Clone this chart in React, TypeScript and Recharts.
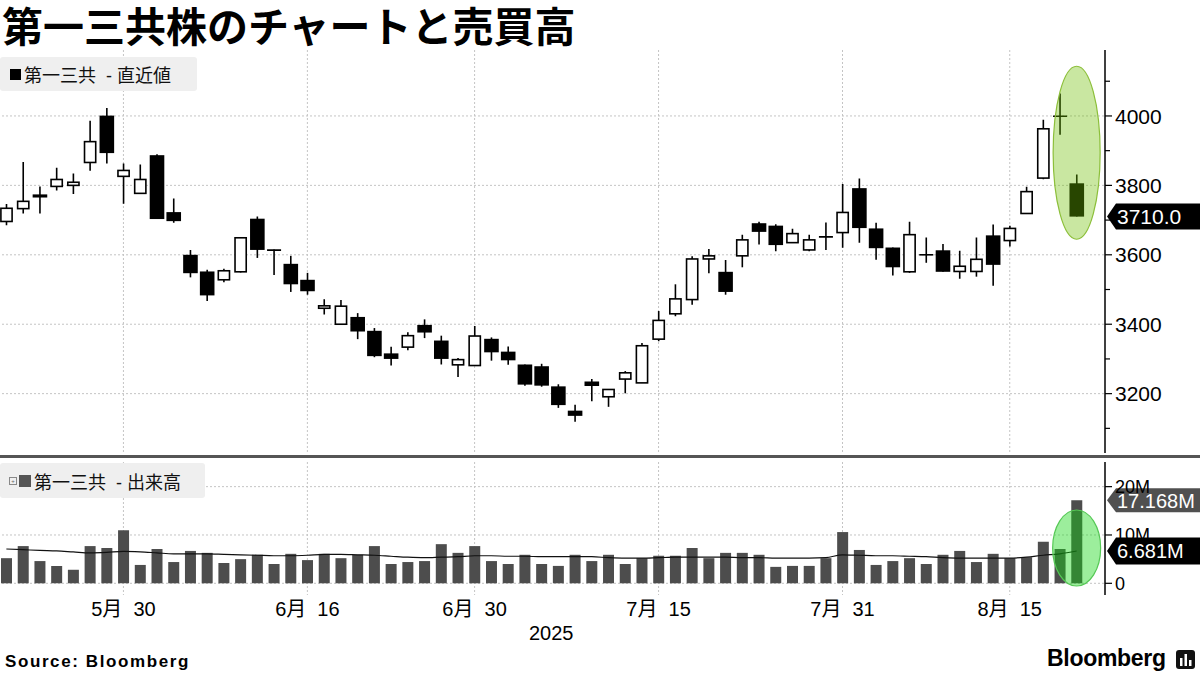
import React from "react";
import { ComposedChart, Bar, Line, XAxis, YAxis, CartesianGrid, ReferenceLine, ReferenceDot } from "recharts";

// 取引日 (2025)
const dates = [
  "5/21", "5/22", "5/23", "5/26", "5/27", "5/28", "5/29", "5/30",
  "6/2", "6/3", "6/4", "6/5", "6/6", "6/9", "6/10", "6/11", "6/12", "6/13", "6/16",
  "6/17", "6/18", "6/19", "6/20", "6/23", "6/24", "6/25", "6/26", "6/27", "6/30",
  "7/1", "7/2", "7/3", "7/4", "7/7", "7/8", "7/9", "7/10", "7/11", "7/14", "7/15",
  "7/16", "7/17", "7/18", "7/22", "7/23", "7/24", "7/25", "7/28", "7/29", "7/30", "7/31",
  "8/1", "8/4", "8/5", "8/6", "8/7", "8/8", "8/12", "8/13", "8/14", "8/15",
  "8/18", "8/19", "8/20", "8/21",
];

const opens = [
  3696, 3733, 3774, 3797, 3800, 3866, 4001, 3826, 3777, 3887, 3723, 3600, 3552, 3528, 3551, 3704,
  3614, 3574, 3528, 3446, 3400, 3421, 3381, 3316, 3334, 3398, 3353, 3283, 3281, 3358, 3321, 3284,
  3279, 3221, 3151, 3235, 3191, 3242, 3231, 3357, 3430, 3471, 3588, 3551, 3597, 3691, 3684, 3635,
  3614, 3651, 3664, 3792, 3676, 3621, 3551, 3600, 3613, 3552, 3552, 3656, 3641, 3719, 3821, 3998,
  3806,
];
const highs = [
  3746, 3867, 3797, 3851, 3834, 3986, 4023, 3863, 3860, 3890, 3762, 3614, 3557, 3560, 3651, 3710,
  3615, 3597, 3548, 3472, 3470, 3432, 3389, 3335, 3377, 3414, 3367, 3303, 3395, 3362, 3336, 3284,
  3286, 3227, 3168, 3242, 3212, 3265, 3346, 3438, 3515, 3596, 3617, 3585, 3658, 3695, 3688, 3675,
  3658, 3693, 3804, 3820, 3692, 3621, 3695, 3650, 3631, 3612, 3650, 3687, 3684, 3796, 3989, 4065,
  3831,
];
const lows = [
  3685, 3719, 3719, 3785, 3775, 3842, 3863, 3747, 3777, 3703, 3692, 3535, 3467, 3521, 3549, 3591,
  3542, 3493, 3485, 3428, 3400, 3357, 3305, 3281, 3325, 3360, 3284, 3248, 3281, 3295, 3283, 3223,
  3220, 3159, 3119, 3178, 3162, 3201, 3231, 3351, 3423, 3456, 3547, 3485, 3564, 3630, 3610, 3635,
  3610, 3614, 3620, 3635, 3586, 3540, 3548, 3577, 3551, 3531, 3537, 3511, 3624, 3719, 3818, 3946,
  3710,
];
const closes = [
  3734, 3754, 3765, 3817, 3809, 3926, 3893, 3843, 3817, 3703, 3697, 3547, 3483, 3554, 3649, 3614,
  3613, 3515, 3495, 3453, 3452, 3379, 3308, 3300, 3367, 3376, 3300, 3298, 3366, 3319, 3296, 3226,
  3223, 3167, 3136, 3222, 3212, 3260, 3338, 3411, 3473, 3588, 3597, 3493, 3643, 3666, 3628, 3661,
  3643, 3652, 3722, 3677, 3619, 3564, 3658, 3600, 3551, 3567, 3587, 3571, 3676, 3782, 3963, 4000,
  3710,
];

// 出来高 (百万株)
const volumes = [
  5.2, 7.7, 4.6, 3.6, 2.8, 7.7, 7.3, 11.0, 3.8, 7.1, 4.4, 6.7, 6.3, 4.2, 5.0, 5.9, 4.0, 6.1, 4.8,
  6.1, 5.2, 5.9, 7.7, 4.0, 4.4, 4.6, 8.1, 6.3, 7.7, 4.6, 4.0, 5.9, 4.0, 3.6, 5.9, 4.6, 5.9, 4.0,
  5.2, 5.7, 5.7, 7.3, 5.2, 6.3, 6.3, 5.9, 3.4, 3.6, 3.6, 5.2, 10.6, 6.9, 3.8, 4.6, 5.2, 4.0, 5.9,
  6.7, 4.4, 6.1, 5.2, 5.4, 8.6, 7.1, 17.168,
];
const volumeAvg = [
  7.1, 6.95, 6.8, 6.7, 6.5, 6.3, 6.4, 6.6, 6.5, 6.3, 6.1, 6.1, 6.1, 6.0, 5.9, 5.8, 5.7, 5.7, 5.8,
  6.0, 6.0, 5.9, 5.8, 5.6, 5.4, 5.3, 5.4, 5.5, 5.7, 5.7, 5.6, 5.6, 5.5, 5.5, 5.5, 5.5, 5.3, 5.2,
  5.2, 5.3, 5.4, 5.4, 5.4, 5.4, 5.3, 5.3, 5.2, 5.2, 5.2, 5.3, 5.9, 5.8, 5.7, 5.7, 5.6, 5.5, 5.3,
  5.2, 5.2, 5.2, 5.2, 5.4, 5.8, 6.1, 6.681,
];

const dateTicks = ["5/30", "6/16", "6/30", "7/15", "7/31", "8/15"];
const priceTicks = [3100, 3200, 3300, 3400, 3500, 3600, 3700, 3800, 3900, 4000, 4100];
const priceGrid = [3200, 3400, 3600, 3800, 4000];
const volumeTicks = [0, 10, 20];
const lastPrice = 3710.0;

const rows = dates.map((d, i) => ({
  d,
  open: opens[i],
  high: highs[i],
  low: lows[i],
  close: closes[i],
  vol: volumes[i],
  ma: volumeAvg[i],
}));
const lastDate = dates[dates.length - 1];
const lastVol = volumes[volumes.length - 1];
const lastAvg = volumeAvg[volumeAvg.length - 1];

const FONT = '"Liberation Sans", "Noto Sans CJK JP", sans-serif';
const GRID = "#c4c4c4";

// ローソク足
const Candle = (props: any) => {
  const { x, y, width, height, payload } = props;
  const { open, close, high, low } = payload;
  const cx = x + width / 2;
  const span = high - low;
  const py = (v: number) => (span > 0 ? y + ((high - v) / span) * height : y);
  const top = py(Math.max(open, close));
  const bot = py(Math.min(open, close));
  const up = close >= open;
  const body = bot - top;
  return (
    <g>
      <line x1={cx} x2={cx} y1={y} y2={y + height} stroke="#000" strokeWidth={1.6} />
      {body < 1.5 ? (
        <line x1={cx - 7} x2={cx + 7} y1={(top + bot) / 2} y2={(top + bot) / 2} stroke="#000" strokeWidth={1.6} />
      ) : up ? (
        <rect x={cx - 5.6} y={top} width={11.2} height={body} fill="#fff" stroke="#000" strokeWidth={1.6} />
      ) : (
        <rect x={cx - 7.3} y={top} width={14.6} height={body} fill="#000" />
      )}
    </g>
  );
};

const PriceTick = ({ x, y, payload }: any) => {
  const major = payload.value % 200 === 0;
  return (
    <g>
      <line x1={x} x2={x + (major ? 7 : 5)} y1={y} y2={y} stroke="#000" strokeWidth={1.2} />
      {major && (
        <text x={x + 10} y={y} dy="0.36em" fontSize={21} fill="#000" fontFamily={FONT}>
          {payload.value}
        </text>
      )}
    </g>
  );
};

const VolumeTick = ({ x, y, payload }: any) => (
  <g>
    <line x1={x} x2={x + 7} y1={y} y2={y} stroke="#000" strokeWidth={1.2} />
    <text x={x + 10} y={y} dy="0.36em" fontSize={18} fill="#000" fontFamily={FONT}>
      {payload.value === 0 ? "0" : `${payload.value}M`}
    </text>
  </g>
);

const DateTick = ({ x, y, payload }: any) => {
  const [m, dd] = String(payload.value).split("/");
  return (
    <text x={x} y={y + 14} dy="0.36em" textAnchor="middle" fontSize={20} fill="#000" fontFamily={FONT} style={{ whiteSpace: "pre" }}>
      {`${m}月  ${dd}`}
    </text>
  );
};

// 右端の値タグ
const tag = (text: string, fill: string, h: number, fontSize: number) => (p: any) => {
  const vb = p.viewBox || {};
  const x0 = vb.x + vb.width + 2;
  const cy = vb.y;
  return (
    <g>
      <polygon
        points={`${x0},${cy} ${x0 + 9},${cy - h / 2} 1202,${cy - h / 2} 1202,${cy + h / 2} ${x0 + 9},${cy + h / 2}`}
        fill={fill}
      />
      <text x={x0 + 10} y={cy} dy="0.36em" fontSize={fontSize} fill="#fff" fontFamily={FONT}>
        {text}
      </text>
    </g>
  );
};

const PriceHighlight = (p: any) => (
  <ellipse cx={p.cx} cy={p.cy} rx={23.5} ry={86.5} fill="rgba(108,190,0,0.37)" stroke="#8cbf3a" strokeWidth={1.2} />
);
const VolumeHighlight = (p: any) => (
  <ellipse cx={p.cx} cy={p.cy} rx={24} ry={38} fill="rgba(20,215,20,0.42)" stroke="#55c855" strokeWidth={1.2} />
);

const legendBox: React.CSSProperties = {
  position: "absolute",
  left: 0,
  background: "#efefef",
  borderRadius: 3,
  display: "flex",
  alignItems: "center",
  fontSize: 18,
  whiteSpace: "pre",
  color: "#111",
};

export default function App() {
  return (
    <div
      style={{
        position: "absolute",
        left: 0,
        top: 0,
        width: 1200,
        height: 675,
        background: "#fff",
        overflow: "hidden",
        fontFamily: FONT,
      }}
    >
      <div
        style={{
          position: "absolute",
          left: 2,
          top: 0,
          fontSize: 41,
          lineHeight: "48px",
          fontWeight: 700,
          fontFamily: '"Noto Sans CJK JP", sans-serif',
          whiteSpace: "nowrap",
        }}
      >
        第一三共株のチャートと売買高
      </div>

      {/* 株価パネル */}
      <div style={{ position: "absolute", left: -2, top: 50 }}>
        <ComposedChart width={1202} height={403} data={rows} margin={{ top: 0, right: 0, bottom: 0, left: 0 }}>
          <CartesianGrid
            stroke={GRID}
            strokeDasharray="2 2"
            horizontalValues={priceGrid}
            verticalValues={dateTicks}
          />
          <XAxis dataKey="d" type="category" hide padding={{ left: 0, right: 20 }} ticks={dateTicks} interval={0} />
          <YAxis
            orientation="right"
            width={95}
            domain={[3029, 4190]}
            ticks={priceTicks}
            interval={0}
            allowDataOverflow
            axisLine={{ stroke: "#000", strokeWidth: 1.5 }}
            tickLine={false}
            tickSize={0}
            tickMargin={0}
            tick={<PriceTick />}
          />
          <Bar
            dataKey={(r: any) => [r.low, r.high]}
            barSize={15}
            shape={<Candle />}
            isAnimationActive={false}
          />
          <ReferenceDot x={lastDate} y={3894} shape={PriceHighlight} ifOverflow="visible" />
          <ReferenceLine y={lastPrice} stroke="none" label={{ content: tag(lastPrice.toFixed(1), "#000", 26, 21) }} />
        </ComposedChart>
      </div>

      <div style={{ ...legendBox, top: 57, width: 197, height: 34 }}>
        <span style={{ display: "inline-block", width: 11, height: 11, background: "#000", marginLeft: 10, marginRight: 3 }} />
        <span>第一三共  - 直近値</span>
      </div>

      {/* 区切り線 */}
      <div style={{ position: "absolute", left: 0, top: 455, width: 1200, height: 3, background: "#555" }} />

      {/* 出来高パネル */}
      <div style={{ position: "absolute", left: -2, top: 462 }}>
        <ComposedChart width={1202} height={178} data={rows} margin={{ top: 0, right: 0, bottom: 0, left: 0 }}>
          <CartesianGrid
            stroke={GRID}
            strokeDasharray="2 2"
            horizontalValues={volumeTicks}
            verticalValues={dateTicks}
          />
          <XAxis
            dataKey="d"
            type="category"
            padding={{ left: 0, right: 20 }}
            ticks={dateTicks}
            interval={0}
            height={45}
            axisLine={false}
            tickLine={false}
            tickSize={0}
            tickMargin={0}
            tick={<DateTick />}
          />
          <YAxis
            orientation="right"
            width={95}
            domain={[-2.42, 25.1]}
            ticks={volumeTicks}
            interval={0}
            allowDataOverflow
            axisLine={{ stroke: "#000", strokeWidth: 1.5 }}
            tickLine={false}
            tickSize={0}
            tickMargin={0}
            tick={<VolumeTick />}
          />
          <Bar dataKey="vol" fill="#4d4d4d" barSize={11} isAnimationActive={false} />
          <Line dataKey="ma" type="monotone" stroke="#111" strokeWidth={1.2} dot={false} isAnimationActive={false} />
          <ReferenceDot x={lastDate} y={7.3} shape={VolumeHighlight} ifOverflow="visible" />
          <ReferenceLine y={lastVol} stroke="none" label={{ content: tag(`${lastVol.toFixed(3)}M`, "#505050", 24, 20) }} />
          <ReferenceLine y={lastAvg} stroke="none" label={{ content: tag(`${lastAvg.toFixed(3)}M`, "#000", 27, 20) }} />
        </ComposedChart>
      </div>

      <div style={{ ...legendBox, top: 463, width: 205, height: 35 }}>
        <span
          style={{
            display: "inline-block",
            width: 6,
            height: 6,
            border: "1px solid #888",
            marginLeft: 9,
            marginRight: 2,
            fontSize: 6,
            lineHeight: "6px",
            textAlign: "center",
            color: "#666",
          }}
        >
          +
        </span>
        <span style={{ display: "inline-block", width: 12, height: 12, background: "#555", marginRight: 3 }} />
        <span>第一三共  - 出来高</span>
      </div>

      <div style={{ position: "absolute", left: 529, top: 622, fontSize: 20 }}>2025</div>

      <div style={{ position: "absolute", left: 5, top: 652, fontSize: 17, fontWeight: 700, letterSpacing: 1.6 }}>
        Source:  Bloomberg
      </div>
      <div style={{ position: "absolute", left: 1047, top: 645, fontSize: 23, fontWeight: 700, letterSpacing: -0.3 }}>
        Bloomberg
      </div>
      <svg style={{ position: "absolute", left: 1176, top: 650 }} width={20} height={20}>
        <rect x={0} y={0} width={19} height={19} rx={3} fill="#111" />
        <rect x={4} y={8} width={2.5} height={8} fill="#fff" />
        <rect x={8.5} y={4} width={2.5} height={12} fill="#fff" />
        <rect x={13} y={10} width={2.5} height={6} fill="#fff" />
      </svg>
    </div>
  );
}
